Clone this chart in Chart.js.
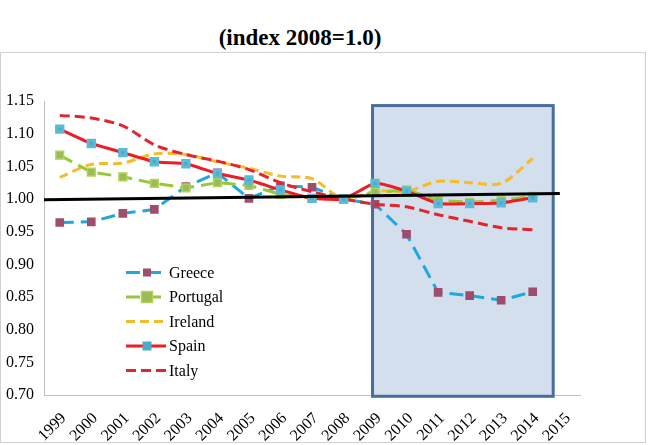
<!DOCTYPE html>
<html>
<head>
<meta charset="utf-8">
<script src="https://cdn.jsdelivr.net/npm/chart.js@4"></script>
<style>
  html, body { margin: 0; padding: 0; background: #fff; }
  #page { position: relative; width: 648px; height: 445px; overflow: hidden; }
  #title { position: absolute; left: 0; top: 24px; width: 600px; text-align: center;
           font: bold 23px "Liberation Serif", serif; line-height: 28px; color: #000; }
  #frame { position: absolute; left: 0; top: 52px; width: 644px; height: 389px; border: 1.5px solid #d0d0d0; }
  #chart { position: absolute; left: 0; top: 0; }
</style>
</head>
<body>
<div id="page">
  <div id="title">(index 2008=1.0)</div>
  <div id="frame"></div>
  <canvas id="chart" width="648" height="445"></canvas>
</div>
<script>
// categories (x axis)
const years = ['1999','2000','2001','2002','2003','2004','2005','2006','2007','2008',
               '2009','2010','2011','2012','2013','2014','2015'];

// series
const greece   = [0.964, 0.965, 0.978, 0.984, 1.019, 1.040, 1.001, 1.020, 1.018, 1.000, 0.992, 0.946, 0.857, 0.852, 0.845, 0.858, null];
const portugal = [1.067, 1.041, 1.034, 1.024, 1.017, 1.025, 1.021, 1.007, 1.001, 1.000, 1.010, 1.014, 0.998, 0.995, 0.998, 1.004, null];
const ireland  = [1.033, 1.053, 1.055, 1.069, 1.068, 1.057, 1.047, 1.035, 1.031, 1.000, 1.012, 1.012, 1.027, 1.025, 1.024, 1.062, null];
const spain    = [1.107, 1.085, 1.071, 1.057, 1.054, 1.039, 1.029, 1.014, 1.001, 1.000, 1.024, 1.012, 0.993, 0.993, 0.994, 1.002, null];
const italy    = [1.128, 1.124, 1.112, 1.083, 1.068, 1.058, 1.045, 1.025, 1.011, 1.000, 0.992, 0.988, 0.976, 0.966, 0.956, 0.953, null];

// y tick labels
const yTicks = [0.70, 0.75, 0.80, 0.85, 0.90, 0.95, 1.00, 1.05, 1.10, 1.15];

// crisis period box (category index / value) and the hand drawn 1.0 line
const boxRange = { from: 9.92, to: 15.65, top: 1.143, bottom: 0.698 };
const refLine = { fromValue: 0.999, to: 15.86, toValue: 1.0085 };

const FONT = '"Liberation Serif", serif';

const datasets = [
  { label: 'Greece', data: greece, borderColor: '#1ea8e0', borderWidth: 3, borderDash: [14, 7],
    pointStyle: 'rect', pointRadius: 4, pointBackgroundColor: '#9e4d6c', pointBorderColor: '#9e4d6c',
    tension: 0, order: 5 },
  { label: 'Portugal', data: portugal, borderColor: '#98c73a', borderWidth: 3, borderDash: [14, 7],
    pointStyle: 'rect', pointRadius: 5.5, pointBackgroundColor: '#9bbb59', pointBorderColor: '#b2d457',
    pointBorderWidth: 1.5, tension: 0, order: 3 },
  { label: 'Ireland', data: ireland, borderColor: '#f4bc26', borderWidth: 3, borderDash: [9, 5],
    pointRadius: 0, tension: 0.3, order: 4 },
  { label: 'Spain', data: spain, borderColor: '#ee1c25', borderWidth: 3,
    pointStyle: 'rect', pointRadius: 4.5, pointBackgroundColor: '#4bacc6', pointBorderColor: '#5bbbd6',
    tension: 0.15, order: 1 },
  { label: 'Italy', data: italy, borderColor: '#e3242b', borderWidth: 3, borderDash: [10, 5],
    pointRadius: 0, tension: 0.3, order: 2 }
];

const boxPlugin = {
  id: 'box',
  beforeDatasetsDraw(chart) {
    const x = chart.scales.x, y = chart.scales.y, ctx = chart.ctx;
    const l = x.getPixelForValue(boxRange.from), r = x.getPixelForValue(boxRange.to);
    const t = y.getPixelForValue(boxRange.top), b = y.getPixelForValue(boxRange.bottom);
    ctx.save();
    ctx.fillStyle = '#d3dfed';
    ctx.fillRect(l, t, r - l, b - t);
    ctx.strokeStyle = '#4a6e9c';
    ctx.lineWidth = 3;
    ctx.strokeRect(l, t, r - l, b - t);
    ctx.restore();
  },
  afterDatasetsDraw(chart) {
    const x = chart.scales.x, y = chart.scales.y, ctx = chart.ctx;
    ctx.save();
    ctx.strokeStyle = '#000';
    ctx.lineWidth = 3;
    ctx.beginPath();
    ctx.moveTo(chart.chartArea.left, y.getPixelForValue(refLine.fromValue));
    ctx.lineTo(x.getPixelForValue(refLine.to), y.getPixelForValue(refLine.toValue));
    ctx.stroke();
    ctx.restore();
  }
};

// legend drawn by hand so line + marker samples look like the original
const legendPlugin = {
  id: 'sampleLegend',
  afterDraw(chart) {
    const ctx = chart.ctx;
    const x0 = 126, x1 = 166, top = 272.5, step = 24.5;
    ctx.save();
    chart.data.datasets.forEach((ds, i) => {
      const yy = top + i * step;
      ctx.strokeStyle = ds.borderColor;
      ctx.lineWidth = 3;
      ctx.setLineDash(ds.borderDash || []);
      ctx.beginPath();
      ctx.moveTo(x0, yy);
      ctx.lineTo(x1, yy);
      ctx.stroke();
      ctx.setLineDash([]);
      if (ds.pointRadius > 0) {
        const s = ds.pointRadius * 2;
        const mx = (x0 + x1) / 2 + 1;
        ctx.fillStyle = ds.pointBackgroundColor;
        ctx.fillRect(mx - s / 2, yy - s / 2, s, s);
        if (ds.pointBorderWidth) {
          ctx.strokeStyle = ds.pointBorderColor;
          ctx.lineWidth = ds.pointBorderWidth;
          ctx.strokeRect(mx - s / 2, yy - s / 2, s, s);
        }
      }
      ctx.fillStyle = '#000';
      ctx.font = '16px ' + FONT;
      ctx.textBaseline = 'middle';
      ctx.fillText(ds.label, x1 + 3, yy + 1);
    });
    ctx.restore();
  }
};

new Chart(document.getElementById('chart'), {
  type: 'line',
  data: { labels: years, datasets: datasets },
  options: {
    responsive: false,
    animation: false,
    devicePixelRatio: 1,
    layout: { padding: { top: 101, right: 68, left: 0, bottom: 0 } },
    plugins: { legend: { display: false }, tooltip: { enabled: false } },
    scales: {
      x: {
        offset: true,
        grid: { display: false, drawTicks: false },
        border: { color: '#bfbfbf', width: 1 },
        ticks: { autoSkip: false, maxRotation: 45, minRotation: 45, padding: 14, labelOffset: 4,
                 color: '#000', font: { family: FONT, size: 16 } },
        afterFit(scale) { scale.height = 50; }
      },
      y: {
        min: 0.70, max: 1.15,
        grid: { display: false, drawTicks: false },
        border: { color: '#bfbfbf', width: 1 },
        afterBuildTicks(scale) { scale.ticks = yTicks.map(v => ({ value: v })); },
        ticks: { padding: 10, color: '#000', font: { family: FONT, size: 16 },
                 callback: v => Number(v).toFixed(2) },
        afterFit(scale) { scale.width = 44; }
      }
    }
  },
  plugins: [boxPlugin, legendPlugin]
});
</script>
</body>
</html>
